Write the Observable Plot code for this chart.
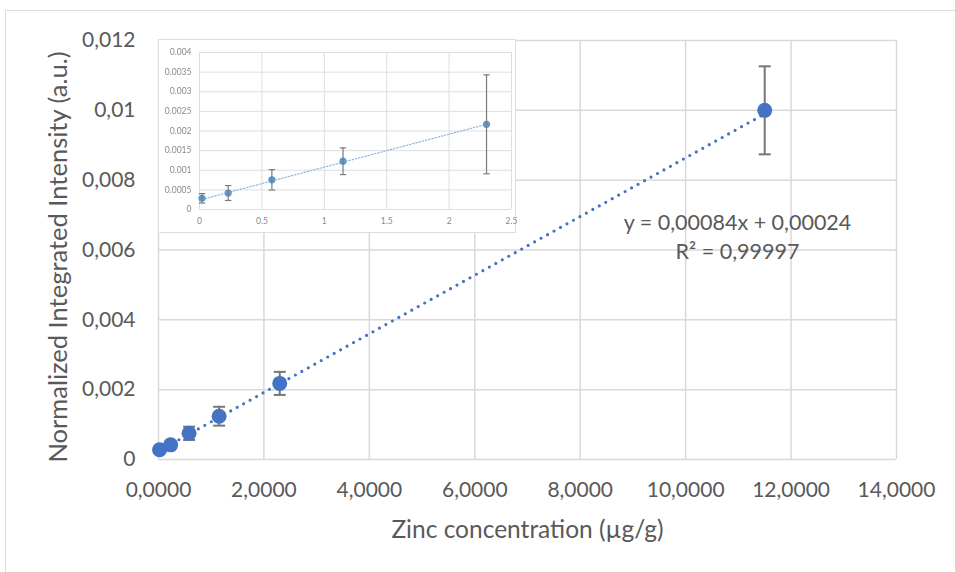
<!DOCTYPE html>
<html>
<head>
<meta charset="utf-8">
<script src="https://cdn.jsdelivr.net/npm/d3@7"></script>
<script src="https://cdn.jsdelivr.net/npm/@observablehq/plot@0.6"></script>
<style>
  html, body { margin: 0; padding: 0; background: #fff; }
  #chart { position: relative; width: 955px; height: 572px; overflow: hidden; font-family: Lato, sans-serif; }
  #frame { position: absolute; left: 5px; top: 10px; width: 960px; height: 580px;
           border-left: 1.5px solid #dcdcdc; border-top: 1.5px solid #dcdcdc; }
  #main { position: absolute; left: 0; top: 0; }
  #inset { position: absolute; left: 158px; top: 39px; background: #fff;
           border: 1px solid #dedede; filter: blur(0.35px); }
  #inset svg { overflow: visible; }
</style>
</head>
<body>
<div id="chart">
  <div id="frame"></div>
  <div id="main"></div>
  <div id="inset"></div>
</div>
<script>
// Zinc calibration: concentration (µg/g) vs normalized integrated intensity
const concentration = [0.02, 0.23, 0.58, 1.15, 2.3, 11.5];
const intensity     = [0.00028, 0.00042, 0.00075, 0.00124, 0.00218, 0.01];
const intensityErr  = [0.00008, 0.0001, 0.00019, 0.00027, 0.00033, 0.00126];

// Low-concentration detail (inset)
const insetConcentration = [0.02, 0.23, 0.58, 1.15, 2.3];
const insetIntensity     = [0.000285, 0.00042, 0.000755, 0.00123, 0.00217];
const insetErr           = [0.00012, 0.00019, 0.00026, 0.00034, 0.00126];

// Linear trendline reported on the chart
const slope = 0.00084;
const intercept = 0.00024;
const rSquared = "0,99997";

const xTicks = [0, 2, 4, 6, 8, 10, 12, 14];
const yTicks = [0, 0.002, 0.004, 0.006, 0.008, 0.01, 0.012];
const insetXTicks = [0, 0.5, 1, 1.5, 2, 2.5];
const insetYTicks = [0, 0.0005, 0.001, 0.0015, 0.002, 0.0025, 0.003, 0.0035, 0.004];

const xTitle = "Zinc concentration (µg/g)";
const yTitle = "Normalized Integrated Intensity (a.u.)";

const comma = d3.formatLocale({decimal: ",", thousands: ".", grouping: [3], currency: ["", ""]});
const fmtX = comma.format(".4f");
const fmtY = comma.format(".3~f");
const fmtEq = comma.format(".5f");

const points = concentration.map((x, i) => ({x, y: intensity[i], e: intensityErr[i]}));
const insetPoints = insetConcentration.map((x, i) => ({x, y: insetIntensity[i], e: insetErr[i]}));
const fit = (xs) => [d3.min(xs), d3.max(xs)].map(x => ({x, y: slope * x + intercept}));

// horizontal cap used at the ends of the error bars
const capSymbol = {
  draw(context, size) {
    const w = Math.sqrt(size / Math.PI);
    context.moveTo(-w, 0);
    context.lineTo(w, 0);
  }
};

const mainText = "#595959";
const blue = "#4472c4";

const main = Plot.plot({
  width: 955, height: 572,
  marginLeft: 158, marginRight: 59, marginTop: 40, marginBottom: 113,
  x: {domain: [0, 14]},
  y: {domain: [0, 0.012]},
  style: {fontFamily: "Lato, sans-serif", color: mainText, background: "transparent", overflow: "visible"},
  marks: [
    Plot.gridX(xTicks, {stroke: "#d9d9d9", strokeOpacity: 1, strokeWidth: 1.5}),
    Plot.gridY(yTicks, {stroke: "#d9d9d9", strokeOpacity: 1, strokeWidth: 1.5}),
    Plot.axisX(xTicks, {tickSize: 0, tickPadding: 23, tickFormat: fmtX, fontSize: 21, fill: mainText, label: null}),
    Plot.axisY(yTicks, {tickSize: 0, tickPadding: 23, tickFormat: fmtY, fontSize: 21, fill: mainText, label: null}),
    Plot.text([yTitle], {frameAnchor: "left", rotate: -90, dx: -100, dy: 7, textAnchor: "middle",
      lineAnchor: "middle", fontSize: 25.5, fill: mainText}),
    Plot.text([xTitle], {frameAnchor: "bottom", dy: 71, lineAnchor: "middle", fontSize: 24.5, fill: mainText}),
    Plot.line(fit(concentration), {x: "x", y: "y", stroke: blue, strokeWidth: 3.2,
      strokeDasharray: "0 7.4", strokeLinecap: "round"}),
    Plot.ruleX(points, {x: "x", y1: d => d.y - d.e, y2: d => d.y + d.e, stroke: "#767676", strokeWidth: 2}),
    Plot.dot(points, {x: "x", y: d => d.y + d.e, symbol: capSymbol, r: 6, stroke: "#767676", strokeWidth: 2}),
    Plot.dot(points, {x: "x", y: d => d.y - d.e, symbol: capSymbol, r: 6, stroke: "#767676", strokeWidth: 2}),
    Plot.dot(points, {x: "x", y: "y", r: 7.5, fill: blue, stroke: null}),
    Plot.text([`y = ${fmtEq(slope)}x + ${fmtEq(intercept)}`], {frameAnchor: "top-right", dx: -159, dy: 183,
      textAnchor: "middle", lineAnchor: "middle", fontSize: 21.5, fill: mainText}),
    Plot.text([`R² = ${rSquared}`], {frameAnchor: "top-right", dx: -159, dy: 212,
      textAnchor: "middle", lineAnchor: "middle", fontSize: 21.5, fill: mainText})
  ]
});
document.getElementById("main").append(main);

const insetText = "#8a8a8a";
const lightBlue = "#5b9bd5";

const inset = Plot.plot({
  width: 356, height: 192,
  marginLeft: 40, marginRight: 4, marginTop: 12, marginBottom: 23,
  x: {domain: [0, 2.5]},
  y: {domain: [0, 0.004]},
  style: {fontFamily: "Lato, sans-serif", color: insetText, background: "#fff", overflow: "visible"},
  marks: [
    Plot.gridX(insetXTicks, {stroke: "#dedede", strokeOpacity: 1, strokeWidth: 1}),
    Plot.gridY(insetYTicks, {stroke: "#dedede", strokeOpacity: 1, strokeWidth: 1}),
    Plot.axisX(insetXTicks, {tickSize: 0, tickPadding: 8, tickFormat: d3.format(".1~f"), fontSize: 8.5, fill: insetText, label: null}),
    Plot.axisY(insetYTicks, {tickSize: 0, tickPadding: 8, tickFormat: d3.format(".4~f"), fontSize: 8.5, fill: insetText, label: null}),
    Plot.line(fit(insetConcentration), {x: "x", y: "y", stroke: "#8fb8e2", strokeWidth: 1.2, strokeDasharray: "1.5 1.8"}),
    Plot.dot(insetPoints, {x: "x", y: "y", r: 3.6, fill: lightBlue, stroke: null}),
    Plot.ruleX(insetPoints, {x: "x", y1: d => d.y - d.e, y2: d => d.y + d.e, stroke: "#7a7a7a", strokeWidth: 1.2}),
    Plot.dot(insetPoints, {x: "x", y: d => d.y + d.e, symbol: capSymbol, r: 3.2, stroke: "#7a7a7a", strokeWidth: 1.2}),
    Plot.dot(insetPoints, {x: "x", y: d => d.y - d.e, symbol: capSymbol, r: 3.2, stroke: "#7a7a7a", strokeWidth: 1.2})
  ]
});
document.getElementById("inset").append(inset);
</script>
</body>
</html>
